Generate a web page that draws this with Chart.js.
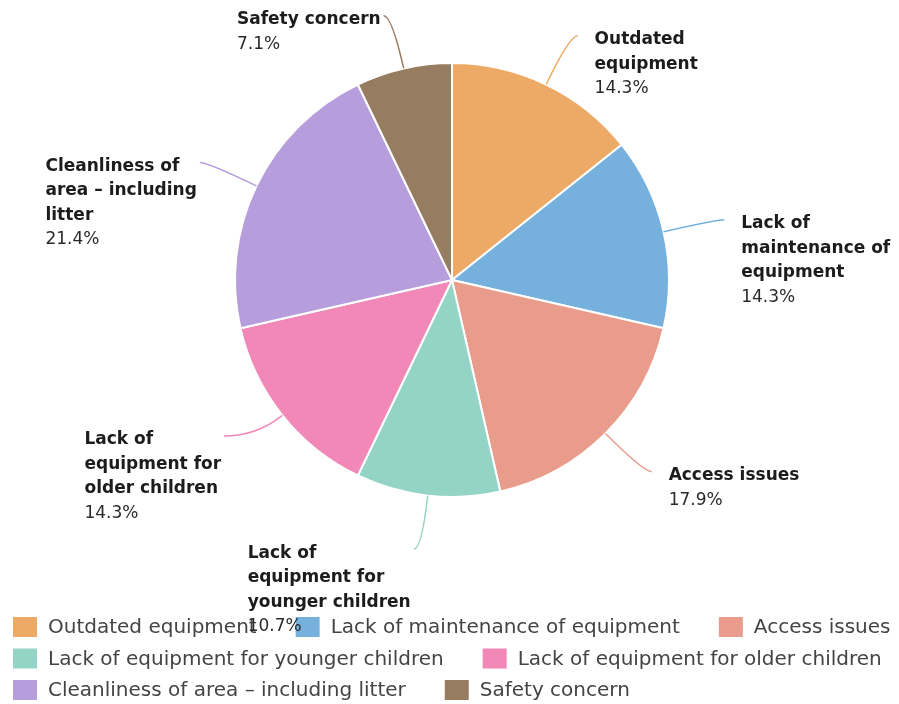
<!DOCTYPE html>
<html>
<head>
<meta charset="utf-8">
<script src="https://cdn.jsdelivr.net/npm/chart.js@4"></script>
<style>
html,body{margin:0;padding:0;background:#fff;}
#wrap{width:899px;height:704px;position:relative;}
</style>
</head>
<body>
<div id="wrap"><canvas id="c" width="899" height="704"></canvas></div>
<script>
const categories = [
  "Outdated equipment",
  "Lack of maintenance of equipment",
  "Access issues",
  "Lack of equipment for younger children",
  "Lack of equipment for older children",
  "Cleanliness of area \u2013 including litter",
  "Safety concern"
];
const counts = [4, 4, 5, 3, 4, 6, 2];
const sliceColors = ["#edaa67", "#76b1dd", "#e99c8b", "#94d4c6", "#f188b8", "#b59edb", "#967c60"];

const total = counts.reduce((a, b) => a + b, 0);
const percents = counts.map(v => (v / total * 100).toFixed(1) + "%");

function wrapText(ctx, text, maxW) {
  const words = text.split(" ");
  const lines = [];
  let cur = "";
  words.forEach(w => {
    const test = cur ? cur + " " + w : w;
    if (cur && ctx.measureText(test).width > maxW) {
      lines.push(cur);
      cur = w;
    } else {
      cur = test;
    }
  });
  if (cur) lines.push(cur);
  return lines;
}

const calloutPlugin = {
  id: "callouts",
  afterDraw(chart, args, opts) {
    const ctx = chart.ctx;
    const meta = chart.getDatasetMeta(0);
    ctx.save();
    meta.data.forEach((arc, i) => {
      const p = arc.getProps(["x", "y", "startAngle", "endAngle", "outerRadius"], true);
      const mid = (p.startAngle + p.endAngle) / 2;
      const dx = Math.cos(mid), dy = Math.sin(mid);
      const right = dx >= 0;
      const r0 = p.outerRadius;
      const rEnd = r0 + opts.lineLength;
      const n = opts.nudge[i] || {x: 0, y: 0};
      const ex = p.x + dx * rEnd + (right ? opts.tail : -opts.tail) + n.x;
      const ey = p.y + dy * rEnd + n.y;
      let rc = Math.abs(dy) > 0.05 ? (ey - p.y) / dy : rEnd;
      rc = Math.max(r0, Math.min(rEnd + 20, rc));
      const sx = p.x + dx * r0, sy = p.y + dy * r0;
      const cx = p.x + dx * rc, cy = p.y + dy * rc;
      ctx.strokeStyle = sliceColors[i];
      ctx.lineWidth = 1.5;
      ctx.beginPath();
      ctx.moveTo(sx, sy);
      ctx.quadraticCurveTo(cx, cy, ex, ey);
      ctx.stroke();

      ctx.font = 'bold 17px "DejaVu Sans"';
      const lines = wrapText(ctx, categories[i], opts.wrapWidth);
      let blockW = 0;
      lines.forEach(l => { blockW = Math.max(blockW, ctx.measureText(l).width); });
      ctx.font = '17px "DejaVu Sans"';
      blockW = Math.max(blockW, ctx.measureText(percents[i]).width);
      const tx = right ? ex + 17 : ex - 3 - blockW;
      let ty = ey + 4;
      ctx.textAlign = "left";
      ctx.textBaseline = "middle";
      ctx.fillStyle = "#1c1c1c";
      ctx.font = 'bold 17px "DejaVu Sans"';
      lines.forEach(l => { ctx.fillText(l, tx, ty); ty += opts.lineHeight; });
      ctx.font = '17px "DejaVu Sans"';
      ctx.fillStyle = "#2a2a2a";
      ctx.fillText(percents[i], tx, ty);
    });
    ctx.restore();
  }
};

const legendPlugin = {
  id: "bottomLegend",
  afterDraw(chart, args, opts) {
    const ctx = chart.ctx;
    ctx.save();
    ctx.font = '20px "DejaVu Sans"';
    ctx.textAlign = "left";
    ctx.textBaseline = "middle";
    let x = opts.left, y = opts.top;
    categories.forEach((label, i) => {
      const w = opts.boxW + opts.gap + ctx.measureText(label).width;
      if (x > opts.left && x + w > opts.maxRight) {
        x = opts.left;
        y += opts.rowStep;
      }
      ctx.fillStyle = sliceColors[i];
      ctx.fillRect(x, y - opts.boxH / 2, opts.boxW, opts.boxH);
      ctx.fillStyle = "#444444";
      ctx.fillText(label, x + opts.boxW + opts.gap, y + 1);
      x += w + opts.padding;
    });
    ctx.restore();
  }
};

new Chart(document.getElementById("c"), {
  type: "pie",
  data: {
    labels: categories,
    datasets: [{
      data: counts,
      backgroundColor: sliceColors,
      borderColor: "#ffffff",
      borderWidth: 2
    }]
  },
  options: {
    responsive: false,
    animation: false,
    layout: { padding: { top: 62, bottom: 206, left: 5, right: 0 } },
    plugins: {
      legend: { display: false },
      tooltip: { enabled: false },
      callouts: {
        lineLength: 54,
        tail: 8,
        wrapWidth: 170,
        lineHeight: 24.5,
        nudge: { 4: { x: -8, y: -13 } }
      },
      bottomLegend: {
        left: 13, top: 627, rowStep: 31.5,
        boxW: 24, boxH: 20, gap: 11, padding: 39, maxRight: 897
      }
    }
  },
  plugins: [legendPlugin, calloutPlugin]
});
</script>
</body>
</html>
